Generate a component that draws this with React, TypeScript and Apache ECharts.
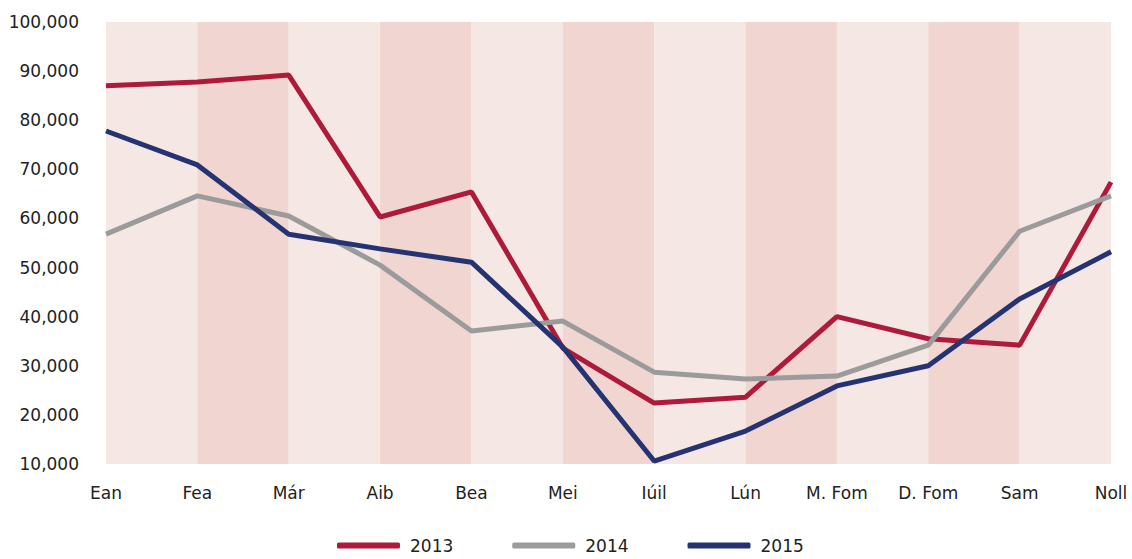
import React, { useEffect, useRef } from "react";
import * as echarts from "echarts";

const months = ["Ean", "Fea", "Már", "Aib", "Bea", "Mei", "Iúil", "Lún", "M. Fom", "D. Fom", "Sam", "Noll"];
const years = ["2013", "2014", "2015"];
const values2013 = [87000, 87800, 89200, 60300, 65400, 33600, 22400, 23600, 40000, 35500, 34200, 67400];
const values2014 = [56800, 64600, 60500, 50500, 37100, 39100, 28700, 27300, 27900, 34200, 57400, 64600];
const values2015 = [77800, 70900, 56800, 53800, 51100, 33800, 10600, 16700, 25900, 30000, 43600, 53200];
const colors = ["#ae1a3a", "#9b9b9b", "#253373"];

export default function App() {
  const ref = useRef<HTMLDivElement>(null);
  useEffect(() => {
    const chart = echarts.init(ref.current!, null, { renderer: "svg" });
    const font = "'DejaVu Sans', 'Noto Sans', sans-serif";
    const seriesData = [values2013, values2014, values2015];
    chart.setOption({
      animation: false,
      grid: { left: 106, right: 21, top: 22, bottom: 95, containLabel: false },
      legend: {
        bottom: 0,
        left: 332,
        itemWidth: 63,
        itemHeight: 6,
        itemGap: 59,
        icon: "roundRect",
        textStyle: { fontFamily: font, fontSize: 17, color: "#222", padding: [0, 0, 0, 5] },
        data: years,
      },
      xAxis: {
        type: "category",
        data: months,
        boundaryGap: false,
        axisLine: { show: false },
        axisTick: { show: false },
        axisLabel: { fontFamily: font, fontSize: 17, color: "#222", margin: 20 },
        splitLine: { show: false },
        splitArea: { show: true, areaStyle: { color: ["#f5e7e4", "#f0d5d1"] } },
      },
      yAxis: {
        type: "value",
        min: 10000,
        max: 100000,
        interval: 10000,
        axisLine: { show: false },
        axisTick: { show: false },
        axisLabel: {
          fontFamily: font,
          fontSize: 17,
          color: "#222",
          margin: 27,
          formatter: (v: number) => v.toLocaleString("en-US"),
        },
        splitLine: { show: true, lineStyle: { color: "#ffffff", width: 3 } },
      },
      series: years.map((y, i) => ({
        name: y,
        type: "line",
        data: seriesData[i],
        symbol: "none",
        z: 3,
        lineStyle: { color: colors[i], width: 5 },
        itemStyle: { color: colors[i] },
      })),
    });
    return () => chart.dispose();
  }, []);
  return <div ref={ref} style={{ width: 1132, height: 559, position: "absolute", left: 0, top: 0 }} />;
}
